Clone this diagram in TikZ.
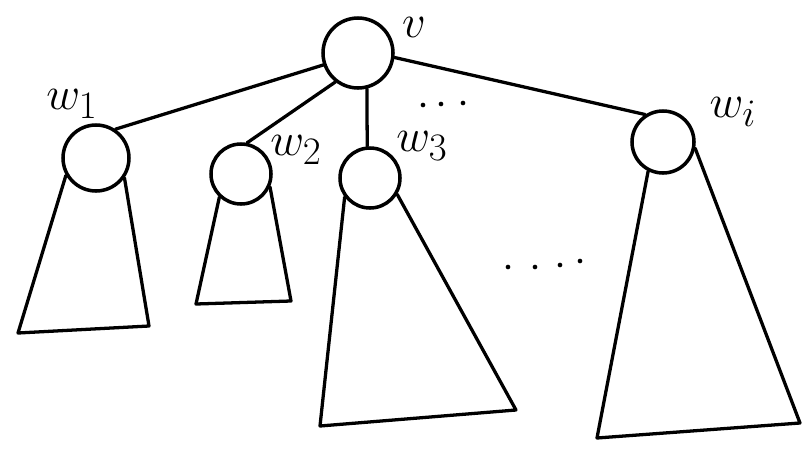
\documentclass[tikz,border=0pt]{standalone}
\usetikzlibrary{positioning,calc}
\tikzset{
  vert/.style={circle, draw, line width=3pt, inner sep=0pt},
  edge/.style={line width=2.8pt, line cap=round},
  subtree/.style={line width=2.8pt, line join=round, line cap=round},
  lbl/.style={font=\Huge, scale=1.6, inner sep=0pt},
  dot/.style={circle, fill, inner sep=0pt, minimum size=4pt},
}

\begin{document}
\begin{tikzpicture}[x=0.03cm, y=-0.03cm]
    \useasboundingbox (0,0) rectangle (804,470);

    % vertices
    \node[vert, minimum size=2.1cm]  (v)  at (358,53)  {};
    \node[vert, minimum size=1.98cm] (w1) at (96,158)  {};
    \node[vert, minimum size=1.8cm]  (w2) at (241,174) {};
    \node[vert, minimum size=1.8cm]  (w3) at (370,178) {};
    \node[vert, minimum size=1.86cm] (wi) at (663,142) {};

    % labels
    \node[lbl] (lv)  at (414,27)  {$v$};
    \node[lbl] (lw1) at (72,104)  {$w_1$};
    \node[lbl] (lw2) at (296,150) {$w_2$};
    \node[lbl] (lw3) at (422,146) {$w_3$};
    \node[lbl] (lwi) at (733,112) {$w_i$};

    % edges
    \draw[edge] (v.199) -- (w1.56);
    \draw[edge] (v.232) -- (w2.79);
    \draw[edge] (v.284) -- (w3.95);
    \draw[edge] (v.353) -- (wi.123);

    % subtrees
    \coordinate (b1l) at (18,333);  \coordinate (b1r) at (149,326);
    \coordinate (b2l) at (196,304); \coordinate (b2r) at (291,301);
    \coordinate (b3l) at (320,426); \coordinate (b3r) at (516,410);
    \coordinate (bil) at (597,438); \coordinate (bir) at (800,423);
    \draw[subtree] (w1.210) -- (b1l) -- (b1r) -- (w1.325);
    \draw[subtree] (w2.227) -- (b2l) -- (b2r) -- (w2.336);
    \draw[subtree] (w3.217) -- (b3l) -- (b3r) -- (w3.329);
    \draw[subtree] (wi.243) -- (bil) -- (bir) -- (wi.349);

    % dots
    \foreach \x/\y in {423/105, 441/104, 463/103}
        \node[dot] at (\x,\y) {};
    \foreach \x/\y in {508/267, 535/267, 560/265, 580/261}
        \node[dot] at (\x,\y) {};
\end{tikzpicture}
\end{document}
